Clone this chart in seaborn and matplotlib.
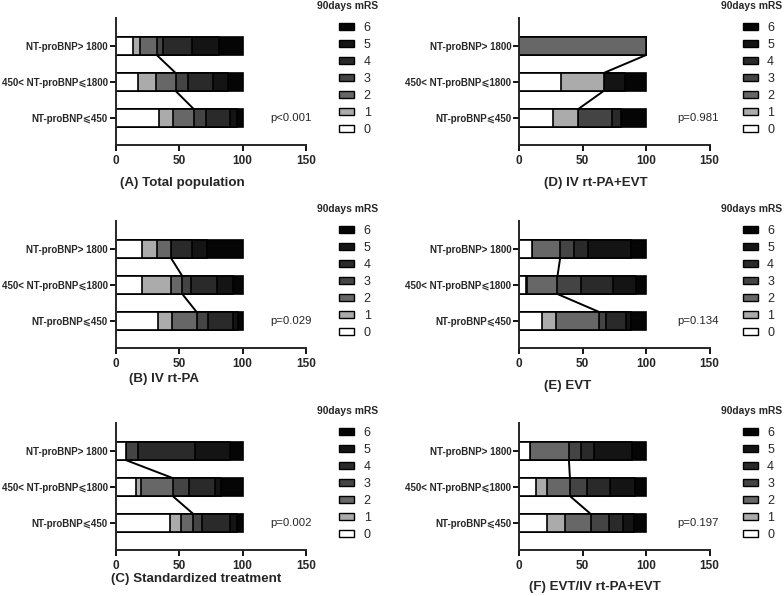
import numpy as np
import pandas as pd
import matplotlib
matplotlib.use("Agg")
import matplotlib.pyplot as plt
from matplotlib.patches import Patch
import seaborn as sns

# DADOS (percentual de pacientes por mRS 0..6 em cada grupo)

groups = ["NT-proBNP> 1800", "450< NT-proBNP⩽1800", "NT-proBNP⩽450"]
mrs_levels = [0, 1, 2, 3, 4, 5, 6]

total_pop = [[14.0, 5.0, 13.5, 5.1, 22.7, 21.2, 18.5],
             [17.5, 14.2, 15.7, 10.0, 19.3, 11.9, 11.4],
             [34.4, 10.8, 16.4, 9.8, 19.1, 5.3, 4.2]]
iv_rtpa = [[21.2, 11.5, 11.0, 0.0, 16.2, 11.8, 28.3],
           [21.2, 22.5, 8.9, 6.8, 20.2, 13.1, 7.3],
           [33.2, 11.3, 19.4, 8.6, 20.2, 3.5, 3.8]]
standard = [[8.1, 0.0, 0.0, 9.4, 45.1, 27.5, 9.9],
            [16.0, 4.2, 24.8, 12.9, 20.4, 4.9, 16.8],
            [42.9, 8.7, 9.7, 7.0, 21.8, 5.2, 4.7]]
iv_evt = [[0.0, 0.0, 100.0, 0.0, 0.0, 0.0, 0.0],
          [33.3, 33.3, 0.0, 0.0, 0.0, 16.7, 16.7],
          [26.7, 20.0, 0.0, 26.7, 6.6, 0.0, 20.0]]
evt = [[10.0, 0.0, 22.4, 11.3, 11.0, 33.5, 11.8],
       [5.3, 0.7, 24.3, 18.4, 25.5, 17.9, 7.9],
       [18.4, 10.5, 34.3, 5.2, 15.8, 4.0, 11.8]]
evt_all = [[8.9, 0.0, 30.4, 9.4, 10.2, 30.1, 11.0],
           [13.1, 8.9, 18.1, 13.8, 17.6, 19.6, 8.9],
           [22.3, 14.3, 19.9, 14.4, 11.0, 9.0, 9.1]]

panel_titles = ["(A) Total population", "(B) IV rt-PA", "(C) Standardized treatment",
                "(D) IV rt-PA+EVT", "(E) EVT", "(F) EVT/IV rt-PA+EVT"]
p_values = ["p<0.001", "p=0.029", "p=0.002", "p=0.981", "p=0.134", "p=0.197"]
panel_data = [total_pop, iv_rtpa, standard, iv_evt, evt, evt_all]

cores = ["#ffffff", "#ababab", "#676767", "#444444", "#2a2a2a", "#141414", "#050505"]

# ESTILO

sns.set_style("ticks")
plt.rcParams["font.family"] = ["Liberation Sans", "DejaVu Sans"]

W, H = 784, 596
fig = plt.figure(figsize=(W / 100, H / 100), dpi=100)

# posicoes em pixels: (esquerda, topo) de cada eixo, titulo do painel (x, y)
ax_pos = [(115.5, 18), (115.5, 221), (115.5, 423), (519, 18), (519, 221), (519, 423)]
title_pos = [(182, 183), (164, 379), (196, 579), (596, 183), (568, 386), (595, 587)]
ax_w, ax_h = 190.5, 127

for i in range(6):
    left, top = ax_pos[i]
    ax = fig.add_axes([left / W, 1 - (top + ax_h) / H, ax_w / W, ax_h / H])

    df = pd.DataFrame(panel_data[i], columns=mrs_levels)
    df.insert(0, "grupo", groups)
    cum = df[mrs_levels].cumsum(axis=1)

    # barras empilhadas: sobrepoe os acumulados do maior para o menor
    for k in reversed(mrs_levels):
        sns.barplot(x=cum[k].values, y=df["grupo"], order=groups, orient="h",
                    color=cores[k], saturation=1, edgecolor="black",
                    linewidth=1.2, width=0.5, ax=ax)

    # linhas ligando o limite mRS 0-2 entre as barras
    c2 = cum[2].values
    for j in range(2):
        ax.plot([c2[j], c2[j + 1]], [j + 0.25, j + 1 - 0.25], color="black", lw=1.4)

    ax.set_xlim(0, 150)
    ax.set_ylim(2.75, -0.78)
    ax.set_xticks([0, 50, 100, 150])
    ax.set_xlabel("")
    ax.set_ylabel("")
    for s in ["top", "right"]:
        ax.spines[s].set_visible(False)
    for s in ["left", "bottom"]:
        ax.spines[s].set_linewidth(1.4)
    ax.tick_params(axis="both", width=1.3, length=4, color="black")
    ax.tick_params(axis="x", labelsize=8.5)
    ax.tick_params(axis="y", labelsize=7.0, pad=1.5)
    for lab in ax.get_xticklabels() + ax.get_yticklabels():
        lab.set_fontweight("bold")

    ax.text(121.5 if i < 3 else 124.5, 2, p_values[i], fontsize=8.2, va="center", ha="left")

    handles = [Patch(facecolor=cores[k], edgecolor="black", linewidth=1.0)
               for k in reversed(mrs_levels)]
    ax.legend(handles, [str(k) for k in reversed(mrs_levels)], loc="upper left",
              bbox_to_anchor=(1.142, 1.018), frameon=False, fontsize=9,
              borderpad=0, labelspacing=0.4, handlelength=1.2, handleheight=0.5,
              handletextpad=0.75)
    ax.text(1.22, 1.094, "90days mRS", transform=ax.transAxes, fontsize=7.4,
            fontweight="bold", ha="center", va="center")

    tx, ty = title_pos[i]
    fig.text(tx / W, 1 - ty / H, panel_titles[i], fontsize=9.6, fontweight="bold",
             ha="center", va="center")

fig.savefig("out.png", dpi=100)
